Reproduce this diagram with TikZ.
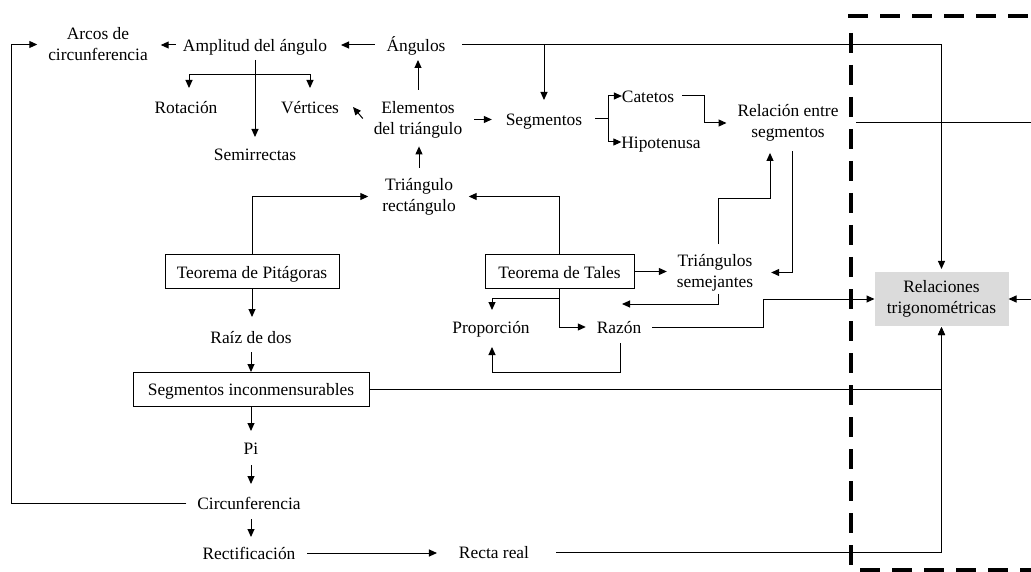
\documentclass[tikz,border=0pt]{standalone}
\usepackage{fontspec}
\setmainfont{Liberation Serif}
\usetikzlibrary{arrows.meta,calc}
\begin{document}
\begin{tikzpicture}[x=1pt,y=-1pt,
  base/.style={inner sep=0pt,outer sep=0pt,align=center,
    font=\fontsize{17.4}{21}\selectfont},
  lbl/.style={base,text height=14.5pt,text depth=1.5pt},
  lbltwo/.style={base,
    execute at begin node={\rule{0pt}{14.5pt}},
    execute at end node={\rule[-1.5pt]{0pt}{1.5pt}}},
  framed/.style={lbl,draw,line width=1pt},
  link/.style={line width=1pt},
  lnk/.style={link,-{Triangle[length=8pt,width=7pt]}},
  twoway/.style={link,{Triangle[length=8pt,width=7pt]}-{Triangle[length=8pt,width=7pt]}},
  border/.style={line width=4pt,dash pattern=on 20pt off 12pt}]

\useasboundingbox (0,0) rectangle (1031,572);
\clip (0,0) rectangle (1031,572);

% concepts
\node[lbltwo] (arcos) at (98,44.5) {Arcos de\\circunferencia};
\node[lbl] (amp) at (255,45) {Amplitud del ángulo};
\node[lbl] (ang) at (416,45) {Ángulos};
\node[lbl] (rot) at (186,107) {Rotación};
\node[lbl] (vert) at (310,107) {Vértices};
\node[lbl] (semi) at (255,154) {Semirrectas};
\node[lbltwo] (elem) at (418,119.5) {Elementos\\del triángulo};
\node[lbl] (segm) at (544,119) {Segmentos};
\node[lbl] (cat) at (648,96) {Catetos};
\node[lbl] (hip) at (661,142) {Hipotenusa};
\node[lbltwo] (rel) at (788,123) {Relación entre\\segmentos};
\node[lbltwo] (trir) at (419,196.5) {Triángulo\\rectángulo};
\node[framed,minimum width=174pt,minimum height=33pt] (pit) at (252,271.5) {Teorema de Pitágoras};
\node[framed,minimum width=149pt,minimum height=33pt] (tal) at (559.5,271.5) {Teorema de Tales};
\node[lbltwo] (tris) at (715,272.5) {Triángulos\\semejantes};
\node[lbl] (prop) at (491,327) {Proporción};
\node[lbl] (razon) at (619,327) {Razón};
\node[lbl] (raiz) at (251,337) {Raíz de dos};
\node[framed,minimum width=236pt,minimum height=34pt] (inc) at (251,389) {Segmentos inconmensurables};
\node[lbl] (pi) at (251,448) {Pi};
\node[lbl] (circ) at (249,503) {Circunferencia};
\node[lbl] (rect) at (249,553) {Rectificación};
\node[lbl] (real) at (494,552) {Recta real};
\node[lbltwo,fill=gray!28,minimum width=134pt,minimum height=54pt] (trig) at (941.5,299) {Relaciones\\trigonométricas};

% top row
\draw[lnk,shorten <=7pt,shorten >=13pt] (amp.west) -- (arcos.east |- amp.west);
\draw[lnk,shorten <=12pt,shorten >=14pt] (ang.west) -- (amp.east |- ang.west);
\draw[lnk,shorten <=17pt,shorten >=3pt] (ang.east) -| (trig.north);
\draw[lnk,shorten >=11pt] (segm.north |- ang.east) -- (segm.north);

% angle amplitude branches
\draw[lnk,shorten <=7pt,shorten >=9pt] (amp.south) -- (amp.south |- semi.north);
\draw[twoway] ($(rot.north)+(3,-11)$) |- ($(vert.north)+(0,-24)$) -- ($(vert.north)+(0,-11)$);

% triangle elements
\draw[lnk,shorten <=11.5pt,shorten >=7pt] (elem.north) -- (elem.north |- ang.south);
\draw[lnk,shorten <=10.5pt,shorten >=8.5pt] (trir.north) -- (trir.north |- elem.south);
\draw[lnk,shorten <=12pt,shorten >=14pt] (elem.east) -- (elem.east -| segm.west);
\draw[lnk] ($(elem.west)+(-11,-1)$) -- ($(vert.east)+(14,0)$);

% segments
\draw[link] ($(segm.east)+(13,0)$) -- ++(13,0);
\draw[twoway] (cat.west) -| ($(segm.east)+(26,0)$) |- (hip.west);
\draw[lnk] ($(cat.east)+(8,0)$) -- ++(22,0) |- ($(rel.west)+(-11,0)$);
\draw[lnk] ($(rel.east)+(18,0)$) -| ($(trig.east)+(40,0)$) -- (trig.east);
\draw[lnk] ($(rel.south)+(4,10)$) |- ($(tris.east)+(18,0)$);
\draw[lnk] ($(tris.north)+(3,-10)$) -- ++(0,-46) -| ($(rel.south)+(-18,11.5)$);

% theorems
\draw[lnk,shorten >=10pt] (tal.east) -- (tal.east -| tris.west);
\draw[lnk] (tal.north) |- ($(trir.east)+(13,0)$);
\draw[lnk] (pit.north) |- ($(trir.west)+(-14,0)$);
\draw[lnk] (tal.south) |- ($(razon.west)+(-11,0)$);
\draw[lnk] ($(tal.south)+(0,10)$) -| ($(prop.north)+(1,-9)$);
\draw[lnk] ($(tris.south)+(3,3)$) |- ($(razon.north)+(3,-15)$);
\draw[lnk] ($(razon.south)+(1,8)$) -- ++(0,29) -| ($(prop.south)+(1,12)$);
\draw[lnk] ($(razon.east)+(11,0)$) -- ++(111,0) |- (trig.west);

% left column
\draw[lnk,shorten >=12pt] (pit.south) -- (pit.south |- raiz.north);
\draw[lnk,shorten <=7pt] (raiz.south) -- (raiz.south |- inc.north);
\draw[lnk,shorten >=1pt] (inc.east) -| (trig.south);
\draw[lnk,shorten >=9pt] (inc.south) -- (inc.south |- pi.north);
\draw[lnk,shorten <=9pt,shorten >=11pt] (pi.south) -- (pi.south |- circ.north);
\draw[lnk] ($(circ.west)+(-11,0)$) -| ($(arcos.west)+(-37,0)$) -- ($(arcos.west)+(-11,0)$);
\draw[lnk,shorten <=8pt,shorten >=8pt] (circ.south -| pi.south) -- (pi.south |- rect.north);
\draw[lnk,shorten <=12pt,shorten >=22pt] (rect.east) -- (rect.east -| real.west);
\draw[lnk,shorten >=1pt] ($(real.east)+(27,0)$) -| (trig.south);

% dashed frame around the trigonometric relations
\draw[border] (848,16) -- (1040,16);
\draw[border] (851,33) -- (851,566);
\draw[border] (860,570) -- (1040,570);
\end{tikzpicture}
\end{document}
